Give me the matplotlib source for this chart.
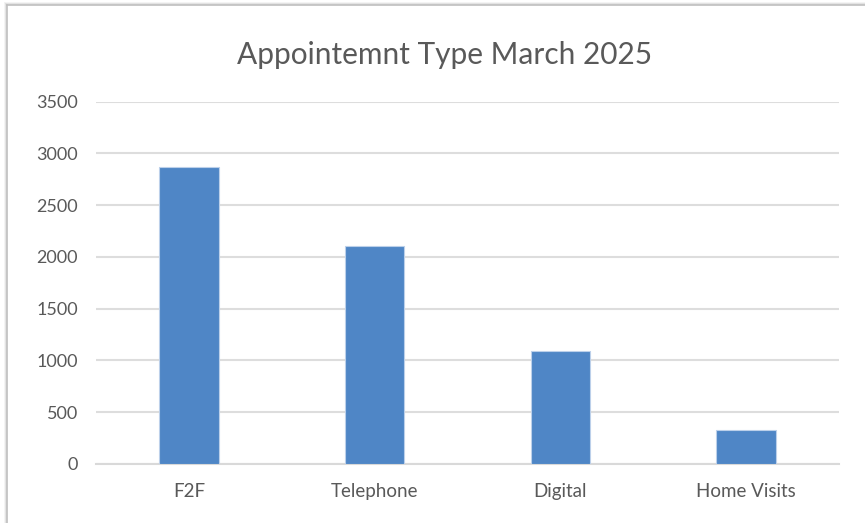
import matplotlib
matplotlib.use("Agg")
import matplotlib.pyplot as plt
from matplotlib.lines import Line2D

categories = ["F2F", "Telephone", "Digital", "Home Visits"]
values = [2870, 2110, 1095, 330]
yticks = [0, 500, 1000, 1500, 2000, 2500, 3000, 3500]
title = "Appointemnt Type March 2025"

W, H = 865, 523
fig = plt.figure(figsize=(W / 100, H / 100), dpi=100)
fig.patch.set_facecolor("white")

ax = fig.add_axes([96 / W, 1 - 464 / H, (839 - 96) / W, (464 - 101.7) / H])
x = list(range(len(categories)))
ax.bar(x, values, width=0.32, color="#4F86C6", edgecolor="#BCD0EA", linewidth=0.8, zorder=3)
ax.set_xlim(-0.5, len(categories) - 0.5)
ax.set_ylim(0, 3500)
ax.set_yticks(yticks)
ax.set_yticklabels([str(t) for t in yticks])
ax.set_xticks(x)
ax.set_xticklabels(categories)
for s in ["top", "right", "left"]:
    ax.spines[s].set_visible(False)
ax.spines["bottom"].set_color("#D9D9D9")
ax.spines["bottom"].set_linewidth(1.5)
ax.grid(axis="y", color="#DDDDDD", linewidth=1.5, zorder=0)
ax.set_axisbelow(True)
ax.tick_params(axis="both", length=0, colors="#595959", labelsize=13)
ax.tick_params(axis="y", pad=13)
ax.tick_params(axis="x", pad=14, labelsize=13.5)
for lab in ax.get_xticklabels() + ax.get_yticklabels():
    lab.set_fontfamily("Lato")
    lab.set_color("#595959")

fig.text(444.5 / W, 1 - 55 / H, title, ha="center", va="center",
         fontsize=21.5, color="#595959", fontfamily="Lato")

# chart frame (top and left edges with soft shadow)
for off, col in [(2, "#F2F2F2"), (1, "#E0E0E0"), (0, "#BFBFBF")]:
    fig.add_artist(Line2D([(7 - off) / W, 1], [1 - (5 - off) / H] * 2,
                          transform=fig.transFigure, color=col, linewidth=1.2))
    fig.add_artist(Line2D([(7 - off) / W] * 2, [0, 1 - (5 - off) / H],
                          transform=fig.transFigure, color=col, linewidth=1.2))

fig.savefig("out.png", dpi=100, facecolor="white")
